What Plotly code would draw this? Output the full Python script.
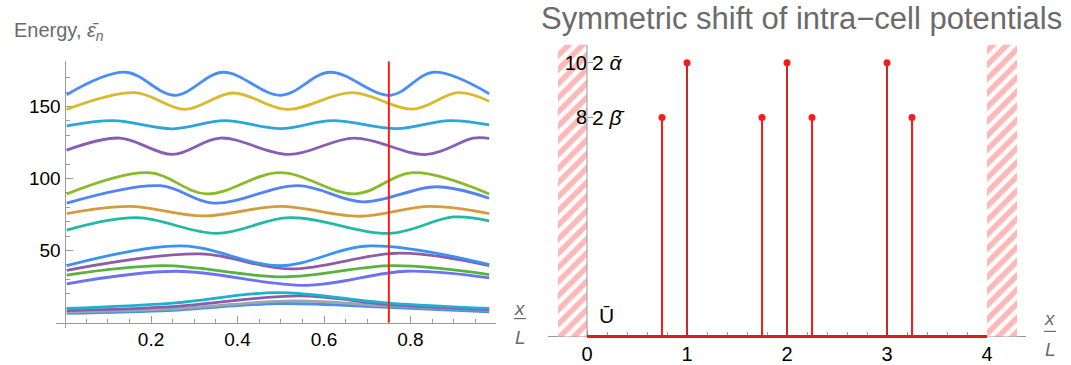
import numpy as np
import plotly.graph_objects as go

W, H = 1071, 365

# ---------------- left panel data: energy bands vs x/L ----------------
band_x = {
    "c1": [0.005, 0.14, 0.255, 0.367, 0.50, 0.614, 0.753, 0.853, 0.982],
    "c2": [0.005, 0.163, 0.278, 0.39, 0.515, 0.665, 0.806, 0.91, 0.982],
    "c3": [0.005, 0.113, 0.25, 0.37, 0.50, 0.62, 0.768, 0.89, 0.982],
    "c4": [0.005, 0.128, 0.25, 0.36, 0.52, 0.67, 0.837, 0.945, 0.982],
    "c5": [0.005, 0.194, 0.329, 0.498, 0.672, 0.806, 0.982],
    "c6": [0.005, 0.221, 0.344, 0.54, 0.69, 0.86, 0.982],
    "c7": [0.005, 0.151, 0.321, 0.498, 0.683, 0.845, 0.982],
    "c8": [0.005, 0.167, 0.352, 0.521, 0.753, 0.899, 0.982],
    "c9": [0.005, 0.271, 0.498, 0.706, 0.982],
    "c10": [0.005, 0.313, 0.52, 0.775, 0.982],
    "c11": [0.005, 0.228, 0.506, 0.76, 0.982],
    "c12": [0.005, 0.259, 0.56, 0.79, 0.982],
    "c13": [0.005, 0.25, 0.49, 0.75, 0.982],
    "c14": [0.005, 0.25, 0.544, 0.75, 0.982],
    "c15": [0.005, 0.25, 0.53, 0.75, 0.982],
    "c16": [0.005, 0.25, 0.498, 0.75, 0.982],
}
band_y = {
    "c1": [158.2, 173.8, 157.8, 173.8, 157.8, 173.8, 157.8, 173.8, 158.9],
    "c2": [148.0, 159.6, 148.0, 159.4, 148.0, 159.6, 148.2, 159.6, 153.7],
    "c3": [136.5, 140.2, 134.5, 140.2, 134.6, 140.2, 134.6, 140.2, 137.2],
    "c4": [119.7, 128.1, 116.7, 128.1, 116.7, 128.1, 116.7, 128.1, 127.9],
    "c5": [89.3, 104.1, 89.3, 104.1, 89.3, 104.1, 89.3],
    "c6": [82.9, 95.0, 82.9, 95.0, 83.8, 94.3, 86.3],
    "c7": [75.6, 80.6, 74.0, 80.6, 73.8, 80.6, 75.6],
    "c8": [64.2, 72.8, 61.9, 72.8, 61.9, 73.3, 70.6],
    "c9": [39.5, 53.2, 39.5, 53.2, 40.2],
    "c10": [36.3, 47.7, 37.2, 48.2, 39.5],
    "c11": [32.9, 39.5, 31.7, 39.5, 33.3],
    "c12": [26.9, 35.6, 25.8, 35.6, 31.0],
    "c13": [9.8, 13.5, 20.8, 13.5, 9.8],
    "c14": [8.2, 11.0, 18.5, 12.5, 9.0],
    "c15": [7.3, 9.5, 15.0, 11.5, 8.5],
    "c16": [6.4, 8.5, 13.2, 10.5, 7.5],
}
band_colors = {
    "c1": "#4b8df8", "c2": "#d9b92d", "c3": "#2ba6dd", "c4": "#8b5cb6",
    "c5": "#87bb28", "c6": "#5183f3", "c7": "#d49c3e", "c8": "#22b9a5",
    "c9": "#3a92f4", "c10": "#8f5aa8", "c11": "#57b33c", "c12": "#6c72f5",
    "c16": "#4a8ef2", "c15": "#9aa9a6", "c14": "#8a5cae", "c13": "#1db0cf",
}
draw_order = ["c16", "c15", "c14", "c13", "c12", "c11", "c10", "c9",
              "c8", "c7", "c6", "c5", "c4", "c3", "c2", "c1"]

marker_pos = [0.75]          # red vertical line in left panel
left_xticks = [0.2, 0.4, 0.6, 0.8]
left_yticks = [50, 100, 150]
y_top_left = 181.5

# ---------------- right panel data: potentials ----------------
stem_x = [0.75, 1, 1.75, 2, 2.25, 3, 3.25]
stem_h = [8, 10, 8, 10, 8, 10, 8]
base_x = [0, 4]
base_y = [0, 0]
right_xticks = [0, 1, 2, 3, 4]
right_yticks = [8, 10]
right_yticktext = ["8", "10"]
right_ylabels = ["2 <i>β\u0304</i>", "2 <i>α\u0304</i>"]
wall_left = [-0.29, 0.0]
wall_right = [4.0, 4.3]
wall_top = 10.67

FONT = "Liberation Sans, Arial, sans-serif"
AX = "#9a9a9a"

fig = go.Figure()

# left bands
for k in draw_order:
    fig.add_trace(go.Scatter(
        x=band_x[k], y=band_y[k], mode="lines",
        line=dict(color=band_colors[k], width=2.8, shape="spline", smoothing=1.0),
        xaxis="x", yaxis="y", showlegend=False, hoverinfo="skip"))

# red vertical line
for xp in marker_pos:
    fig.add_trace(go.Scatter(x=[xp, xp], y=[0, y_top_left], mode="lines",
                             line=dict(color="#ff1a1a", width=2),
                             xaxis="x", yaxis="y", showlegend=False))

# hatched walls
for wx in (wall_left, wall_right):
    fig.add_trace(go.Scatter(
        x=[wx[0], wx[1], wx[1], wx[0], wx[0]],
        y=[0, 0, wall_top, wall_top, 0],
        mode="lines", fill="toself", line=dict(width=0, color="rgba(0,0,0,0)"),
        fillcolor="#ffb8b8",
        fillpattern=dict(shape="/", bgcolor="#ffb8b8", fgcolor="white",
                         fgopacity=1, size=10, solidity=0.45),
        xaxis="x2", yaxis="y2", showlegend=False, hoverinfo="skip"))

# y-axis line of right panel
fig.add_trace(go.Scatter(x=[0, 0], y=[0, wall_top], mode="lines",
                         line=dict(color=AX, width=1),
                         xaxis="x2", yaxis="y2", showlegend=False))

# stems
for sx, sh in zip(stem_x, stem_h):
    col = "#c82828" if sh == 10 else "#ff1a1a"
    fig.add_trace(go.Scatter(x=[sx, sx], y=[0, sh], mode="lines",
                             line=dict(color=col, width=2),
                             xaxis="x2", yaxis="y2", showlegend=False))
fig.add_trace(go.Scatter(x=stem_x, y=stem_h, mode="markers",
                         marker=dict(color="#ff1a1a", size=7),
                         xaxis="x2", yaxis="y2", showlegend=False))

# base line (drawn last, above axis line)
fig.add_trace(go.Scatter(x=base_x, y=base_y, mode="lines",
                         line=dict(color="#d81e1e", width=3),
                         xaxis="x2", yaxis="y2", showlegend=False))

def px(x):
    return x / W

def py(y):
    return (H - y) / H

tickfont = dict(family=FONT, size=19, color="black")
tickfont2 = dict(family=FONT, size=20, color="black")

fig.update_layout(
    width=W, height=H, margin=dict(l=0, r=0, t=0, b=0),
    paper_bgcolor="white", plot_bgcolor="white",
    font=dict(family=FONT),
    xaxis=dict(domain=[px(55.9), px(496.1)], range=[-0.02, 0.998],
               anchor="free", position=py(327), showline=True, linecolor=AX,
               linewidth=1, ticks="inside", ticklen=7, tickcolor=AX,
               tickvals=left_xticks, ticktext=[f"{v:g}" for v in left_xticks],
               minor=dict(tickvals=list(np.round(np.arange(0.05, 1.0, 0.05), 3)),
                          ticks="inside", ticklen=4, tickcolor=AX),
               showgrid=False, zeroline=False, tickfont=tickfont,
               layer="below traces"),
    yaxis=dict(domain=[py(333), py(62)], range=[-4.1, y_top_left],
               anchor="free", position=px(64.5), showline=True, linecolor=AX,
               linewidth=1, ticks="inside", ticklen=7, tickcolor=AX,
               tickvals=left_yticks, minor=dict(tickvals=list(range(10, 180, 10)),
                                                ticks="inside", ticklen=4, tickcolor=AX),
               showgrid=False, zeroline=False, tickfont=tickfont,
               layer="below traces"),
    xaxis2=dict(domain=[px(548), px(1026)], range=[-0.39, 4.39],
                anchor="free", position=py(341), showline=True, linecolor=AX,
                linewidth=1, ticks="inside", ticklen=6, tickcolor=AX,
                tickvals=right_xticks,
                minor=dict(tickvals=list(np.round(np.arange(-0.2, 4.3, 0.2), 3)),
                           ticks="inside", ticklen=4, tickcolor=AX),
                showgrid=False, zeroline=False, tickfont=tickfont2,
                layer="below traces"),
    yaxis2=dict(domain=[py(348), py(45)], range=[-0.25, wall_top],
                anchor="free", position=px(587), showline=False,
                ticks="inside", ticklen=5, tickcolor=AX,
                tickvals=right_yticks, ticktext=right_yticktext,
                showgrid=False, zeroline=False, tickfont=tickfont2,
                layer="above traces"),
)

ann = []
ann.append(dict(text="Energy, <i>ε\u0304</i><sub><i>n</i></sub>", x=px(12), y=py(32),
                xref="paper", yref="paper", xanchor="left", yanchor="middle",
                showarrow=False, font=dict(family=FONT, size=20, color="#6b6b6b")))
ann.append(dict(text="Symmetric shift of intra\u2212cell potentials", x=px(801), y=py(19),
                xref="paper", yref="paper", xanchor="center", yanchor="middle",
                showarrow=False, font=dict(family=FONT, size=31, color="#6b6b6b")))
for v, t in zip(right_yticks, right_ylabels):
    ann.append(dict(text=t, x=0.03, y=v, xref="x2", yref="y2", xanchor="left",
                    yanchor="middle", showarrow=False,
                    font=dict(family=FONT, size=21, color="black")))
ann.append(dict(text="U\u0304", x=px(606), y=py(320), xref="paper", yref="paper",
                xanchor="center", yanchor="middle", showarrow=False,
                font=dict(family=FONT, size=21, color="black")))
# x/L fractions
for cx, yx, yb, yl in ((520, 313, 323, 342), (1050, 323, 336, 354)):
    ann.append(dict(text="<i>x</i>", x=px(cx), y=py(yx), xref="paper", yref="paper",
                    xanchor="center", yanchor="middle", showarrow=False,
                    font=dict(family=FONT, size=19, color="#6b6b6b")))
    ann.append(dict(text="<i>L</i>", x=px(cx), y=py(yl), xref="paper", yref="paper",
                    xanchor="center", yanchor="middle", showarrow=False,
                    font=dict(family=FONT, size=19, color="#6b6b6b")))
    fig.add_shape(type="line", xref="paper", yref="paper",
                  x0=px(cx - 6), x1=px(cx + 6), y0=py(yb), y1=py(yb),
                  line=dict(color="#6b6b6b", width=1.2))
fig.update_layout(annotations=ann)

fig.write_html("out.html")
